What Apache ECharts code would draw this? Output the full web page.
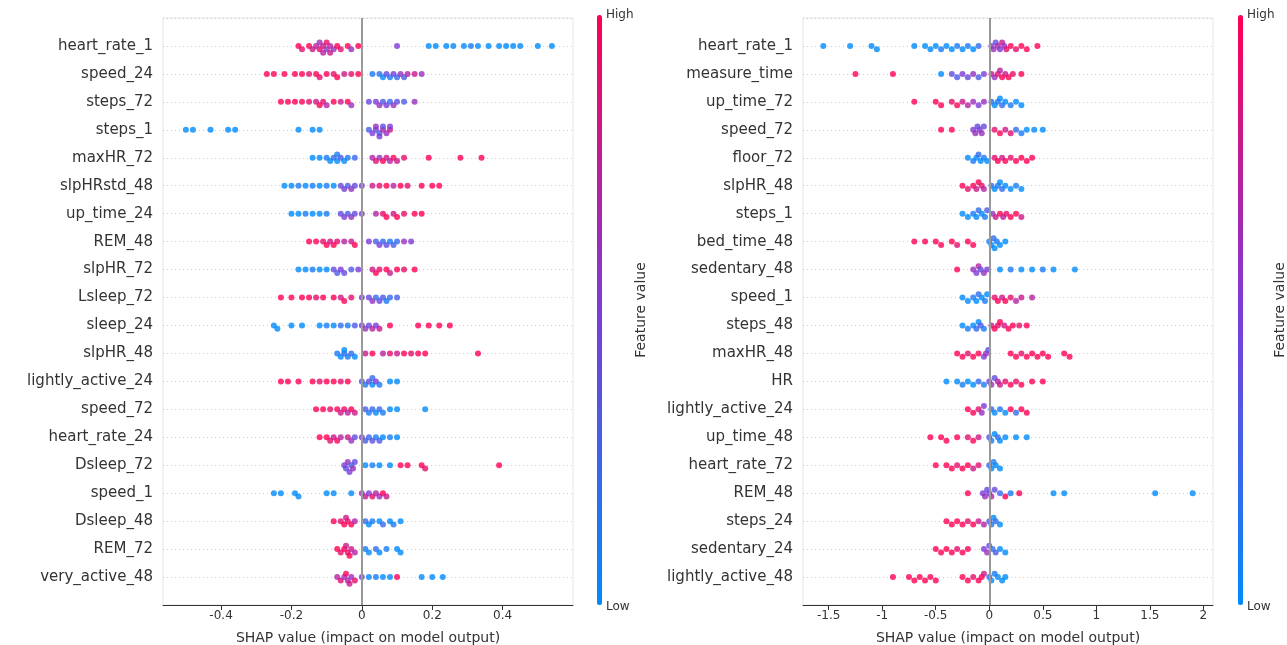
<!DOCTYPE html>
<html><head><meta charset="utf-8">
<script src="https://cdn.jsdelivr.net/npm/echarts@6/dist/echarts.min.js"></script>
<style>body{margin:0}#chart{width:1287px;height:645px}</style>
</head><body><div id="chart"></div>
<script>
// features, top to bottom
const leftNames = ['heart_rate_1','speed_24','steps_72','steps_1','maxHR_72','slpHRstd_48','up_time_24','REM_48','slpHR_72','Lsleep_72',
  'sleep_24','slpHR_48','lightly_active_24','speed_72','heart_rate_24','Dsleep_72','speed_1','Dsleep_48','REM_72','very_active_48'];
const rightNames = ['heart_rate_1','measure_time','up_time_72','speed_72','floor_72','slpHR_48','steps_1','bed_time_48','sedentary_48','speed_1',
  'steps_48','maxHR_48','HR','lightly_active_24','up_time_48','heart_rate_72','REM_48','steps_24','sedentary_24','lightly_active_48'];
const leftTicks = [-0.4, -0.2, 0, 0.2, 0.4];
const rightTicks = [-1.5, -1.0, -0.5, 0, 0.5, 1.0, 1.5, 2.0];

// SHAP value, feature value (0 low .. 1 high)
const leftPoints = [
  [[-0.18,1],[-0.17,0.9],[-0.15,1],[-0.14,0.8],[-0.13,0.7],[-0.12,0.9],[-0.12,0.6],[-0.11,0.8],[-0.11,0.7],[-0.1,0.6],[-0.1,0.9],[-0.09,0.7],[-0.09,0.8],[-0.08,0.6],[-0.07,1],[-0.06,0.9],[-0.04,1],[-0.03,0.6],[-0.01,1],[0.1,0.5],[0.19,0],[0.21,0],[0.24,0],[0.26,0],[0.29,0],[0.31,0.1],[0.33,0],[0.36,0],[0.39,0],[0.41,0],[0.43,0],[0.45,0],[0.5,0],[0.54,0]],
  [[-0.27,1],[-0.25,1],[-0.22,1],[-0.19,1],[-0.17,1],[-0.15,0.9],[-0.13,1],[-0.12,0.9],[-0.1,1],[-0.08,0.9],[-0.07,1],[-0.05,0.8],[-0.03,0.9],[-0.01,1],[0.03,0.1],[0.05,0.2],[0.06,0],[0.07,0.4],[0.08,0.1],[0.09,0.5],[0.1,0.2],[0.11,0.6],[0.12,0.3],[0.13,0.7],[0.15,0.8],[0.17,0.6]],
  [[-0.23,1],[-0.21,1],[-0.19,1],[-0.17,1],[-0.15,0.9],[-0.13,0.8],[-0.12,1],[-0.11,0.9],[-0.1,0.7],[-0.08,1],[-0.06,0.8],[-0.04,1],[-0.03,0.6],[0.02,0.4],[0.04,0.5],[0.05,0.6],[0.06,0.3],[0.07,0.5],[0.08,0.2],[0.09,0.6],[0.1,0.4],[0.12,0.3],[0.15,0.6]],
  [[-0.5,0],[-0.48,0],[-0.43,0],[-0.38,0],[-0.36,0],[-0.18,0],[-0.14,0],[-0.12,0],[0.02,0.3],[0.03,0.5],[0.04,0.4],[0.04,0.6],[0.05,0.3],[0.05,0.5],[0.06,0.7],[0.06,0.4],[0.07,0.6],[0.08,0.8],[0.08,0.5]],
  [[-0.14,0],[-0.12,0],[-0.1,0.1],[-0.09,0],[-0.08,0.2],[-0.07,0],[-0.07,0.1],[-0.06,0.3],[-0.05,0],[-0.04,0.1],[-0.02,0.2],[0.03,0.7],[0.04,0.9],[0.05,0.6],[0.06,1],[0.07,0.8],[0.08,0.7],[0.09,1],[0.1,0.8],[0.12,0.9],[0.19,1],[0.28,1],[0.34,1]],
  [[-0.22,0],[-0.2,0],[-0.18,0.1],[-0.16,0],[-0.14,0.1],[-0.12,0],[-0.1,0.1],[-0.08,0],[-0.06,0.4],[-0.05,0.5],[-0.04,0.3],[-0.03,0.6],[-0.02,0.4],[0,0.5],[0.03,0.8],[0.05,0.9],[0.07,1],[0.09,0.7],[0.11,1],[0.13,0.9],[0.17,1],[0.2,1],[0.22,1]],
  [[-0.2,0],[-0.18,0],[-0.16,0.1],[-0.14,0],[-0.12,0],[-0.1,0.1],[-0.06,0.4],[-0.05,0.5],[-0.04,0.3],[-0.03,0.6],[-0.02,0.4],[0,0.5],[0.04,0.7],[0.06,0.9],[0.07,1],[0.09,0.8],[0.1,1],[0.12,0.9],[0.15,1],[0.17,1]],
  [[-0.15,1],[-0.13,1],[-0.11,0.9],[-0.1,1],[-0.09,0.8],[-0.08,1],[-0.07,0.9],[-0.05,0.7],[-0.03,0.8],[-0.02,1],[0.02,0.5],[0.04,0.3],[0.05,0.5],[0.06,0.2],[0.07,0.4],[0.08,0.1],[0.09,0.3],[0.1,0.2],[0.12,0.6],[0.14,0.5]],
  [[-0.18,0],[-0.16,0],[-0.14,0.1],[-0.12,0],[-0.1,0],[-0.08,0.4],[-0.07,0.3],[-0.06,0.5],[-0.05,0.4],[-0.03,0.3],[-0.01,0.5],[0.03,0.8],[0.04,1],[0.05,0.9],[0.07,1],[0.08,0.8],[0.1,1],[0.12,0.9],[0.15,1]],
  [[-0.23,1],[-0.2,1],[-0.17,1],[-0.15,1],[-0.13,0.9],[-0.11,1],[-0.08,1],[-0.06,0.8],[-0.05,1],[-0.03,0.9],[0,0.5],[0.02,0.4],[0.03,0.6],[0.04,0.2],[0.05,0.4],[0.06,0.3],[0.07,0.1],[0.08,0.2],[0.1,0.3]],
  [[-0.25,0],[-0.24,0],[-0.2,0],[-0.17,0],[-0.12,0],[-0.1,0.1],[-0.08,0],[-0.06,0.2],[-0.04,0.1],[-0.02,0.3],[0,0.5],[0.01,0.6],[0.02,0.4],[0.03,0.7],[0.04,0.5],[0.05,0.8],[0.08,1],[0.16,1],[0.19,1],[0.22,1],[0.25,1]],
  [[-0.07,0.1],[-0.06,0],[-0.05,0.2],[-0.05,0],[-0.04,0.1],[-0.03,0.2],[-0.02,0],[0.01,0.8],[0.03,1],[0.06,0.7],[0.08,0.9],[0.1,0.8],[0.12,1],[0.14,0.9],[0.16,1],[0.18,1],[0.33,1]],
  [[-0.23,1],[-0.21,1],[-0.18,1],[-0.14,1],[-0.12,0.9],[-0.1,1],[-0.08,1],[-0.06,0.9],[-0.04,1],[0,0.3],[0.01,0.1],[0.02,0.4],[0.03,0],[0.03,0.2],[0.04,0.5],[0.05,0.1],[0.08,0],[0.1,0]],
  [[-0.13,1],[-0.11,1],[-0.09,0.9],[-0.07,1],[-0.06,0.8],[-0.05,0.9],[-0.04,0.7],[-0.03,1],[-0.02,0.8],[0.01,0.3],[0.02,0.1],[0.03,0.2],[0.04,0],[0.05,0.2],[0.06,0.1],[0.08,0],[0.1,0],[0.18,0]],
  [[-0.12,1],[-0.1,1],[-0.09,0.9],[-0.08,0.8],[-0.07,1],[-0.06,0.7],[-0.04,0.8],[-0.03,0.6],[-0.02,0.4],[0,0.5],[0.01,0.3],[0.02,0.2],[0.03,0.4],[0.04,0.1],[0.05,0.3],[0.06,0],[0.08,0.1],[0.1,0]],
  [[-0.05,0.5],[-0.045,0.4],[-0.04,0.6],[-0.035,0.5],[-0.03,0.3],[-0.025,0.6],[-0.02,0.4],[0.01,0],[0.03,0.1],[0.05,0],[0.08,0],[0.11,1],[0.13,1],[0.17,1],[0.18,0.9],[0.39,1]],
  [[-0.25,0],[-0.23,0],[-0.19,0],[-0.18,0],[-0.1,0],[-0.08,0],[-0.03,0],[0,0.6],[0.01,0.8],[0.02,0.5],[0.03,0.9],[0.04,0.7],[0.05,0.6],[0.06,1],[0.07,0.8]],
  [[-0.08,1],[-0.06,0.9],[-0.05,1],[-0.045,0.8],[-0.04,0.9],[-0.03,1],[-0.02,0.7],[0.01,0.2],[0.02,0],[0.03,0.1],[0.05,0],[0.06,0.2],[0.08,0],[0.09,0.1],[0.11,0]],
  [[-0.07,1],[-0.06,0.9],[-0.05,1],[-0.045,0.8],[-0.04,0.9],[-0.035,1],[-0.03,0.8],[-0.02,0.7],[0.01,0.1],[0.02,0],[0.04,0.2],[0.05,0],[0.07,0.1],[0.1,0],[0.11,0]],
  [[-0.07,0.7],[-0.06,0.9],[-0.05,0.6],[-0.045,1],[-0.04,0.7],[-0.035,0.8],[-0.03,0.6],[-0.02,0.9],[0,0.5],[0.02,0],[0.04,0.1],[0.06,0],[0.08,0],[0.1,1],[0.17,0],[0.2,0],[0.23,0]]
];
const rightPoints = [
  [[-1.55,0],[-1.3,0],[-1.1,0],[-1.05,0],[-0.7,0],[-0.6,0],[-0.55,0],[-0.5,0],[-0.45,0.1],[-0.4,0],[-0.35,0],[-0.3,0.1],[-0.25,0],[-0.2,0.1],[-0.15,0],[-0.1,0.2],[0.02,0.5],[0.04,0.6],[0.06,0.4],[0.08,0.7],[0.1,0.5],[0.12,0.8],[0.14,0.6],[0.16,0.9],[0.2,1],[0.25,0.9],[0.3,1],[0.35,1],[0.45,1]],
  [[-1.25,1],[-0.9,1],[-0.45,0],[-0.35,0.4],[-0.3,0.3],[-0.25,0.5],[-0.2,0.4],[-0.15,0.6],[-0.1,0.3],[-0.05,0.5],[0.02,0.8],[0.05,0.6],[0.08,0.9],[0.1,0.7],[0.12,1],[0.15,0.8],[0.18,1],[0.22,0.9],[0.3,1]],
  [[-0.7,1],[-0.5,1],[-0.45,1],[-0.35,0.9],[-0.3,1],[-0.25,0.8],[-0.2,0.7],[-0.15,0.6],[-0.1,0.5],[-0.05,0.6],[0.02,0.2],[0.05,0],[0.08,0.1],[0.1,0],[0.12,0.2],[0.15,0],[0.2,0.1],[0.25,0],[0.3,0]],
  [[-0.45,1],[-0.35,1],[-0.15,0.5],[-0.13,0.6],[-0.11,0.4],[-0.09,0.5],[-0.07,0.6],[-0.05,0.4],[0.05,0.9],[0.1,1],[0.15,0.8],[0.2,0.9],[0.25,0.2],[0.3,0.1],[0.35,0],[0.42,0],[0.5,0]],
  [[-0.2,0],[-0.15,0.1],[-0.12,0],[-0.1,0.2],[-0.08,0],[-0.05,0.1],[-0.02,0],[0.05,0.9],[0.08,1],[0.12,0.8],[0.15,1],[0.2,0.9],[0.25,1],[0.3,1],[0.35,1],[0.4,1]],
  [[-0.25,1],[-0.2,0.9],[-0.15,1],[-0.12,0.8],[-0.1,1],[-0.07,0.9],[-0.05,0.7],[0.02,0.2],[0.05,0],[0.08,0.1],[0.1,0],[0.12,0.2],[0.15,0],[0.2,0],[0.25,0.1],[0.3,0]],
  [[-0.25,0],[-0.2,0],[-0.15,0.1],[-0.12,0],[-0.1,0.2],[-0.07,0],[-0.04,0.1],[-0.02,0.3],[0.03,0.6],[0.06,0.8],[0.1,1],[0.13,0.7],[0.16,0.9],[0.2,1],[0.25,1],[0.3,0.8]],
  [[-0.7,1],[-0.6,1],[-0.5,1],[-0.45,1],[-0.35,1],[-0.3,0.9],[-0.2,1],[-0.15,1],[0,0.1],[0.02,0],[0.04,0.2],[0.05,0],[0.07,0.1],[0.1,0],[0.15,0]],
  [[-0.3,1],[-0.15,0.6],[-0.12,0.5],[-0.1,0.7],[-0.08,0.4],[-0.05,0.6],[-0.02,0.5],[0.1,0],[0.2,0.1],[0.3,0],[0.4,0],[0.5,0.1],[0.6,0],[0.8,0]],
  [[-0.25,0],[-0.2,0],[-0.15,0.1],[-0.12,0],[-0.1,0.2],[-0.07,0],[-0.04,0.1],[-0.02,0],[0.05,0.9],[0.08,1],[0.12,0.8],[0.15,1],[0.2,0.9],[0.25,0.7],[0.3,0.8],[0.4,0.7]],
  [[-0.25,0],[-0.2,0.1],[-0.15,0],[-0.12,0.2],[-0.1,0],[-0.08,0.3],[-0.05,0.1],[0.02,0.8],[0.05,1],[0.08,0.9],[0.1,1],[0.14,0.8],[0.18,1],[0.22,1],[0.28,0.9],[0.35,1]],
  [[-0.3,1],[-0.25,1],[-0.2,0.9],[-0.15,1],[-0.1,1],[-0.05,0.5],[-0.03,0.6],[-0.01,0.4],[0.2,1],[0.25,1],[0.3,0.9],[0.35,1],[0.4,1],[0.45,1],[0.5,1],[0.55,1],[0.7,1],[0.75,1]],
  [[-0.4,0],[-0.3,0],[-0.25,0.1],[-0.2,0],[-0.15,0],[-0.1,0.2],[-0.05,0.1],[0,0.5],[0.02,0.6],[0.05,0.4],[0.08,0.7],[0.1,0.8],[0.15,0.9],[0.2,1],[0.25,0.9],[0.3,1],[0.4,1],[0.5,1]],
  [[-0.2,1],[-0.15,1],[-0.1,0.9],[-0.07,0.6],[-0.05,0.5],[0.02,0.2],[0.05,0],[0.1,0.1],[0.15,0],[0.2,1],[0.25,0.2],[0.3,1],[0.35,1]],
  [[-0.55,1],[-0.45,1],[-0.4,1],[-0.3,1],[-0.2,0.9],[-0.15,1],[-0.1,0.8],[0,0.3],[0.02,0.1],[0.05,0],[0.08,0.2],[0.1,0],[0.15,0],[0.25,0],[0.35,0]],
  [[-0.5,1],[-0.4,1],[-0.35,1],[-0.3,0.9],[-0.25,1],[-0.2,1],[-0.15,0.8],[-0.1,0.9],[0,0.2],[0.02,0],[0.04,0.1],[0.06,0],[0.1,0]],
  [[-0.2,1],[-0.06,0.5],[-0.04,0.6],[-0.02,0.4],[0,0.5],[0.02,0.7],[0.05,0.4],[0.1,0.2],[0.15,1],[0.2,0.1],[0.28,1],[0.6,0],[0.7,0],[1.55,0],[1.9,0]],
  [[-0.4,1],[-0.35,1],[-0.3,1],[-0.25,1],[-0.2,0.9],[-0.15,1],[-0.1,0.8],[-0.05,0.7],[0,0.3],[0.02,0.1],[0.04,0],[0.06,0.2],[0.1,0]],
  [[-0.5,1],[-0.45,1],[-0.4,1],[-0.35,1],[-0.3,0.9],[-0.25,1],[-0.2,1],[-0.05,0.5],[-0.02,0.6],[0,0.4],[0.03,0.2],[0.06,0.3],[0.1,0],[0.15,0]],
  [[-0.9,1],[-0.75,1],[-0.7,1],[-0.65,1],[-0.6,1],[-0.55,1],[-0.5,1],[-0.25,1],[-0.2,1],[-0.15,0.9],[-0.1,1],[-0.07,1],[-0.05,0.8],[0,0.2],[0.02,0],[0.05,0.1],[0.08,0],[0.12,0],[0.15,0]]
];

// beeswarm: stack dots that would overlap, alternating above/below the row
function swarm(points, dotWidth) {
  const out = [];
  points.forEach((row, r) => {
    const placed = [];
    row.slice().sort((a, b) => a[0] - b[0]).forEach(p => {
      let k = 0;
      for (let i = 0; i < 12; i++) {
        const off = i === 0 ? 0 : (i % 2 ? 1 : -1) * Math.ceil(i / 2);
        if (!placed.some(q => q.off === off && Math.abs(q.x - p[0]) < dotWidth)) { k = off; break; }
      }
      placed.push({ x: p[0], off: k });
      out.push([p[0], r + k * 0.12, p[1]]);
    });
  });
  return out;
}

const chart = echarts.init(document.getElementById('chart'));
const txt = { color: '#333', fontFamily: 'DejaVu Sans' };

function yAxis(idx, names) {
  return {
    type: 'value', gridIndex: idx, inverse: true, min: -1, max: 20, interval: 1,
    axisLine: { show: false }, axisTick: { show: false },
    axisLabel: { ...txt, fontSize: 15, margin: 10, formatter: v => names[v] || '' },
    splitLine: { show: true, lineStyle: { color: '#ccc', type: [1, 3] } }
  };
}
function xAxis(idx, ticks, min, max) {
  return {
    type: 'value', gridIndex: idx, min, max,
    name: 'SHAP value (impact on model output)', nameLocation: 'middle', nameGap: 26,
    nameTextStyle: { ...txt, fontSize: 14 },
    axisLine: { onZero: false, lineStyle: { color: '#333' } },
    axisTick: { customValues: ticks, lineStyle: { color: '#333' } },
    axisLabel: { ...txt, fontSize: 12, customValues: ticks, margin: 5 },
    splitLine: { show: false }
  };
}
function series(idx, data) {
  return {
    type: 'scatter', xAxisIndex: idx, yAxisIndex: idx, symbolSize: 6, data,
    markLine: { silent: true, symbol: 'none', label: { show: false },
      lineStyle: { color: '#999', width: 2, type: 'solid' }, data: [{ xAxis: 0 }] }
  };
}
function colorbar(idx, left) {
  return {
    type: 'continuous', seriesIndex: idx, dimension: 2, min: 0, max: 1, calculable: false,
    left, top: 15, itemWidth: 5, itemHeight: 590, text: null, showLabel: false, padding: 0,
    inRange: { color: ['#008bfb', '#7d3bd8', '#ff0052'] }
  };
}
function labels(x, off) {
  return [
    { type: 'text', left: x + 9, top: 9, style: { text: 'High', fill: '#333', font: '12px DejaVu Sans' } },
    { type: 'text', left: x + 9, top: 601, style: { text: 'Low', fill: '#333', font: '12px DejaVu Sans' } },
    { type: 'text', x: x + off, y: 310, rotation: Math.PI / 2, style: { text: 'Feature value', fill: '#333', font: '14px DejaVu Sans', align: 'center', verticalAlign: 'middle' } }
  ];
}

chart.setOption({
  animation: false,
  grid: [
    { left: 163, width: 410, top: 18, height: 587, show: true, borderColor: '#e6e6e6', outerBoundsMode: 'none', containLabel: false },
    { left: 803, width: 410, top: 18, height: 587, show: true, borderColor: '#e6e6e6', outerBoundsMode: 'none', containLabel: false }
  ],
  xAxis: [xAxis(0, leftTicks, -0.565, 0.6), xAxis(1, rightTicks, -1.74, 2.09)],
  yAxis: [yAxis(0, leftNames), yAxis(1, rightNames)],
  visualMap: [colorbar(0, 597), colorbar(1, 1238)],
  series: [series(0, swarm(leftPoints, 0.017)), series(1, swarm(rightPoints, 0.055))],
  graphic: [...labels(597, 44), ...labels(1238, 42)]
});
</script>
</body></html>
